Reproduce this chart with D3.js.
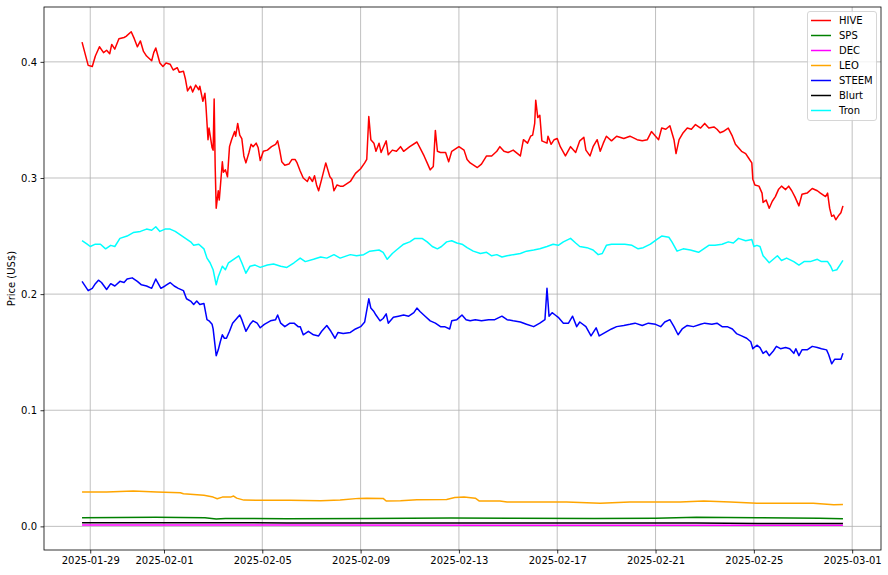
<!DOCTYPE html>
<html><head><meta charset="utf-8">
<script src="https://cdn.jsdelivr.net/npm/d3@7"></script>
<style>body{margin:0;background:#fff}svg{display:block;font-family:"DejaVu Sans",sans-serif}</style>
</head><body><svg id="c" width="888" height="575"></svg>
<script>
// ---- data ----
const startTime = "2025-01-28T16:00:00Z"; // hours below are offsets from this
const seriesNames = ["HIVE","SPS","DEC","LEO","STEEM","Blurt","Tron"];
const tickDates = ["2025-01-29","2025-02-01","2025-02-05","2025-02-09","2025-02-13","2025-02-17","2025-02-21","2025-02-25","2025-03-01"];
const yTicks = [0.0,0.1,0.2,0.3,0.4];

const hiveHours = [0,6,10,13,17,21,24,27,29,32,36,41,43,48,51,54,57,60,63,68,70,72,76,79,82,86,89,93,95,99,101,103,106,108,111,114,115,118,120,121,123,124,127,128,129,130,131,133,134,136,137,138,140,142,144,146,149,150,152,154,156,158,160,163,165,167,170,172,174,177,181,185,189,191,193,195,198,202,205,208,210,213,216,220,222,225,227,229,231,234,238,242,244,246,249,252,255,262,267,272,276,278,280,282,285,287,290,292,294,297,299,303,307,311,314,320,327,330,334,337,340,343,345,347,350,355,358,361,368,373,376,379,386,390,395,400,405,408,412,416,421,428,431,435,438,440,442,443,445,447,449,454,455,458,461,464,467,472,477,482,486,490,492,496,499,503,506,509,512,517,522,529,535,542,547,552,556,560,563,566,570,574,578,580,583,587,591,595,599,604,608,612,617,620,623,626,631,635,638,641,644,648,651,654,655,657,661,664,665,668,671,674,677,680,683,687,690,693,696,700,703,708,713,718,721,726,728,730,732,734,736,739,741,743];
const hiveValues = [0.417,0.397,0.396,0.405,0.413,0.408,0.410,0.407,0.415,0.411,0.420,0.421,0.422,0.426,0.420,0.413,0.418,0.409,0.405,0.401,0.408,0.412,0.399,0.396,0.399,0.398,0.393,0.395,0.391,0.392,0.385,0.375,0.379,0.374,0.380,0.376,0.379,0.366,0.373,0.362,0.333,0.343,0.326,0.324,0.368,0.310,0.274,0.289,0.281,0.303,0.314,0.305,0.307,0.301,0.327,0.333,0.340,0.336,0.347,0.337,0.334,0.319,0.313,0.322,0.329,0.327,0.330,0.326,0.315,0.323,0.324,0.327,0.329,0.332,0.324,0.314,0.311,0.312,0.316,0.316,0.313,0.306,0.300,0.297,0.301,0.297,0.302,0.294,0.289,0.299,0.313,0.301,0.299,0.289,0.294,0.293,0.293,0.297,0.304,0.308,0.313,0.316,0.353,0.333,0.330,0.323,0.330,0.322,0.326,0.332,0.320,0.324,0.323,0.327,0.323,0.327,0.331,0.326,0.319,0.313,0.307,0.310,0.341,0.323,0.322,0.322,0.314,0.323,0.327,0.324,0.316,0.313,0.309,0.312,0.319,0.319,0.323,0.327,0.323,0.322,0.324,0.319,0.333,0.330,0.336,0.337,0.347,0.367,0.352,0.354,0.332,0.330,0.336,0.329,0.333,0.334,0.327,0.319,0.327,0.322,0.332,0.335,0.324,0.319,0.327,0.333,0.323,0.330,0.336,0.332,0.336,0.334,0.336,0.333,0.332,0.333,0.340,0.336,0.333,0.343,0.342,0.345,0.333,0.321,0.333,0.339,0.343,0.342,0.346,0.343,0.347,0.343,0.344,0.342,0.339,0.340,0.343,0.336,0.329,0.326,0.323,0.321,0.317,0.313,0.299,0.294,0.293,0.287,0.279,0.281,0.274,0.280,0.284,0.290,0.293,0.290,0.293,0.289,0.284,0.276,0.286,0.287,0.291,0.289,0.287,0.284,0.287,0.274,0.267,0.268,0.264,0.268,0.270,0.276];

const steemHours = [0,6,10,13,16,19,24,28,32,37,41,44,49,54,58,63,68,72,77,81,86,90,94,99,102,106,109,112,115,119,122,124,127,128,131,133,135,137,139,141,144,147,151,154,156,160,164,167,171,174,178,184,189,191,194,198,203,207,211,213,216,221,226,231,234,239,243,247,250,255,262,267,272,276,280,282,285,287,291,294,297,299,304,309,314,319,324,327,330,335,340,345,350,354,359,361,366,371,375,379,384,390,397,403,410,415,421,428,434,441,447,452,454,456,459,462,465,470,475,479,483,486,492,497,502,505,511,517,522,529,535,540,547,553,560,565,569,574,578,582,586,591,597,604,608,615,620,625,630,635,639,644,649,653,655,659,662,665,668,671,675,678,682,687,691,695,697,700,703,708,713,718,722,727,729,732,735,739,741,743];
const steemValues = [0.211,0.203,0.205,0.209,0.212,0.210,0.204,0.209,0.207,0.211,0.210,0.213,0.214,0.211,0.208,0.207,0.205,0.213,0.205,0.207,0.210,0.207,0.205,0.203,0.196,0.194,0.191,0.194,0.191,0.192,0.178,0.177,0.174,0.170,0.147,0.152,0.159,0.165,0.162,0.162,0.168,0.175,0.179,0.182,0.178,0.168,0.174,0.177,0.175,0.171,0.174,0.177,0.178,0.182,0.175,0.172,0.175,0.175,0.172,0.172,0.165,0.168,0.165,0.164,0.168,0.173,0.168,0.162,0.167,0.166,0.167,0.170,0.172,0.176,0.196,0.188,0.185,0.182,0.177,0.179,0.183,0.175,0.180,0.181,0.182,0.181,0.184,0.188,0.185,0.181,0.177,0.175,0.172,0.172,0.170,0.177,0.178,0.182,0.178,0.177,0.178,0.177,0.178,0.178,0.181,0.178,0.177,0.176,0.174,0.172,0.175,0.178,0.205,0.181,0.184,0.182,0.180,0.175,0.175,0.181,0.172,0.176,0.172,0.164,0.171,0.164,0.167,0.170,0.172,0.173,0.174,0.175,0.173,0.175,0.174,0.172,0.176,0.178,0.172,0.165,0.170,0.173,0.172,0.174,0.175,0.174,0.175,0.172,0.172,0.170,0.166,0.164,0.162,0.159,0.153,0.156,0.154,0.149,0.151,0.147,0.151,0.155,0.153,0.154,0.153,0.149,0.153,0.147,0.152,0.152,0.155,0.154,0.153,0.152,0.148,0.140,0.144,0.144,0.144,0.149];

const tronHours = [0,5,8,13,18,23,28,32,37,44,50,57,63,68,72,76,81,86,91,96,101,106,109,114,119,122,125,128,131,133,137,140,143,148,153,156,160,164,169,174,181,187,194,200,207,213,218,226,233,239,246,252,262,268,275,281,290,294,298,303,307,314,320,325,332,337,342,347,351,356,361,366,371,376,382,389,395,400,405,410,415,421,428,434,441,447,454,460,465,470,477,482,486,493,499,504,508,512,517,524,530,537,543,548,555,561,566,573,576,581,587,594,602,607,612,618,625,631,636,641,648,654,656,659,662,665,667,671,675,679,683,688,695,700,705,711,718,722,728,731,733,737,740,743];
const tronValues = [0.246,0.243,0.241,0.243,0.243,0.239,0.242,0.241,0.248,0.250,0.253,0.254,0.256,0.255,0.258,0.254,0.256,0.256,0.254,0.251,0.248,0.245,0.242,0.243,0.239,0.231,0.227,0.221,0.208,0.215,0.224,0.221,0.227,0.230,0.233,0.227,0.218,0.224,0.225,0.223,0.225,0.226,0.224,0.223,0.227,0.231,0.228,0.230,0.232,0.231,0.234,0.231,0.234,0.233,0.234,0.237,0.238,0.236,0.230,0.235,0.238,0.243,0.245,0.248,0.248,0.245,0.241,0.239,0.241,0.245,0.246,0.244,0.243,0.240,0.237,0.235,0.236,0.233,0.234,0.232,0.233,0.234,0.235,0.237,0.238,0.239,0.241,0.243,0.242,0.245,0.248,0.244,0.241,0.240,0.238,0.234,0.235,0.242,0.243,0.243,0.243,0.242,0.239,0.240,0.243,0.247,0.250,0.249,0.245,0.237,0.239,0.238,0.236,0.239,0.242,0.242,0.243,0.245,0.244,0.248,0.246,0.247,0.241,0.242,0.241,0.233,0.231,0.227,0.230,0.233,0.229,0.231,0.228,0.225,0.228,0.228,0.230,0.228,0.228,0.224,0.220,0.221,0.225,0.229];

const leoHours = [0,24,50,73,96,99,119,128,132,137,145,148,151,158,174,203,233,252,270,278,294,297,311,327,356,364,373,384,388,408,415,441,473,506,535,584,607,633,659,682,714,734,743];
const leoValues = [0.0295,0.0295,0.0304,0.0295,0.0290,0.0281,0.0267,0.0252,0.0238,0.0252,0.0252,0.0261,0.0243,0.0226,0.0224,0.0224,0.0221,0.0226,0.0241,0.0243,0.0241,0.0218,0.0221,0.0230,0.0232,0.0249,0.0252,0.0243,0.0218,0.0218,0.0209,0.0209,0.0209,0.0198,0.0209,0.0209,0.0218,0.0209,0.0198,0.0200,0.0198,0.0187,0.0189];

const spsHours = [0,72,120,131,140,200,280,360,420,500,560,600,660,720,743];
const spsValues = [0.0075,0.0078,0.0074,0.0063,0.0068,0.0066,0.0068,0.0072,0.0069,0.0068,0.0070,0.0078,0.0074,0.0070,0.0066];

const blurtHours = [0,200,400,600,660,743];
const blurtValues = [0.0032,0.0030,0.0029,0.0028,0.0025,0.0024];

const decHours = [0,200,400,600,743];
const decValues = [0.0012,0.0011,0.0010,0.0010,0.0009];

// ---- styles ----
const seriesColors = {HIVE:"#ff0000",SPS:"#008000",DEC:"#ff00ff",LEO:"#ffa500",STEEM:"#0000ff",Blurt:"#000000",Tron:"#00ffff"};

const t0 = new Date(startTime).getTime();
const mk = (hrs, vals) => hrs.map((h,i)=>({t:new Date(t0+h*3600e3), v:vals[i]}));
const series = [
  {name:"HIVE", data:mk(hiveHours,hiveValues)},
  {name:"SPS", data:mk(spsHours,spsValues)},
  {name:"DEC", data:mk(decHours,decValues)},
  {name:"LEO", data:mk(leoHours,leoValues)},
  {name:"STEEM", data:mk(steemHours,steemValues)},
  {name:"Blurt", data:mk(blurtHours,blurtValues)},
  {name:"Tron", data:mk(tronHours,tronValues)}
];

const L=44, R=881, T=7, B=550;
const all = series.flatMap(s=>s.data);
const tExt = d3.extent(all, d=>d.t), vExt = d3.extent(all, d=>d.v);
const tPad = (tExt[1]-tExt[0])*0.05, vPad = (vExt[1]-vExt[0])*0.05;
const x = d3.scaleUtc().domain([new Date(+tExt[0]-tPad), new Date(+tExt[1]+tPad)]).range([L,R]);
const y = d3.scaleLinear().domain([vExt[0]-vPad, vExt[1]+vPad]).range([B,T]);

const svg = d3.select("#c");
svg.append("rect").attr("width",888).attr("height",575).attr("fill","#fff");

const tickVals = tickDates.map(d=>new Date(d+"T00:00:00Z"));
// grid
svg.append("g").selectAll("line").data(tickVals).join("line")
  .attr("x1",d=>x(d)).attr("x2",d=>x(d)).attr("y1",T).attr("y2",B)
  .attr("stroke","#b0b0b0").attr("stroke-width",0.8);
svg.append("g").selectAll("line").data(yTicks).join("line")
  .attr("x1",L).attr("x2",R).attr("y1",d=>y(d)).attr("y2",d=>y(d))
  .attr("stroke","#b0b0b0").attr("stroke-width",0.8);

// lines
const line = d3.line().x(d=>x(d.t)).y(d=>y(d.v));
svg.append("g").selectAll("path").data(series).join("path")
  .attr("d",d=>line(d.data)).attr("fill","none")
  .attr("stroke",d=>seriesColors[d.name]).attr("stroke-width",1.5)
  .attr("stroke-linejoin","round");

// axes
const xa = svg.append("g").attr("transform",`translate(0,${B})`)
  .call(d3.axisBottom(x).tickValues(tickVals).tickFormat(d3.utcFormat("%Y-%m-%d")).tickSize(3.5).tickPadding(3.5));
const ya = svg.append("g").attr("transform",`translate(${L},0)`)
  .call(d3.axisLeft(y).tickValues(yTicks).tickFormat(d3.format(".1f")).tickSize(3.5).tickPadding(3.5));
[xa,ya].forEach(g=>{
  g.select(".domain").remove();
  g.selectAll("text").attr("font-size","10px").attr("font-family","DejaVu Sans").attr("fill","#000");
  g.selectAll("line").attr("stroke","#000").attr("stroke-width",0.8);
});

// frame
svg.append("rect").attr("x",L).attr("y",T).attr("width",R-L).attr("height",B-T)
  .attr("fill","none").attr("stroke","#000").attr("stroke-width",0.8);

// y label
svg.append("text").attr("transform",`translate(15,${(T+B)/2}) rotate(-90)`)
  .attr("text-anchor","middle").attr("font-size","10px").text("Price (US$)");

// legend
const lg = svg.append("g");
lg.append("rect").attr("x",807.5).attr("y",11.5).attr("width",69).attr("height",109).attr("rx",2.5)
  .attr("fill","#fff").attr("fill-opacity",0.8).attr("stroke","#cccccc").attr("stroke-width",0.8);
const items = lg.selectAll("g.it").data(seriesNames).join("g").attr("class","it")
  .attr("transform",(d,i)=>`translate(0,${20.5+15*i})`);
items.append("line").attr("x1",811).attr("x2",831).attr("stroke",d=>seriesColors[d]).attr("stroke-width",1.5);
items.append("text").attr("x",839).attr("dy","0.35em").attr("font-size","10px").text(d=>d);
</script></body></html>
